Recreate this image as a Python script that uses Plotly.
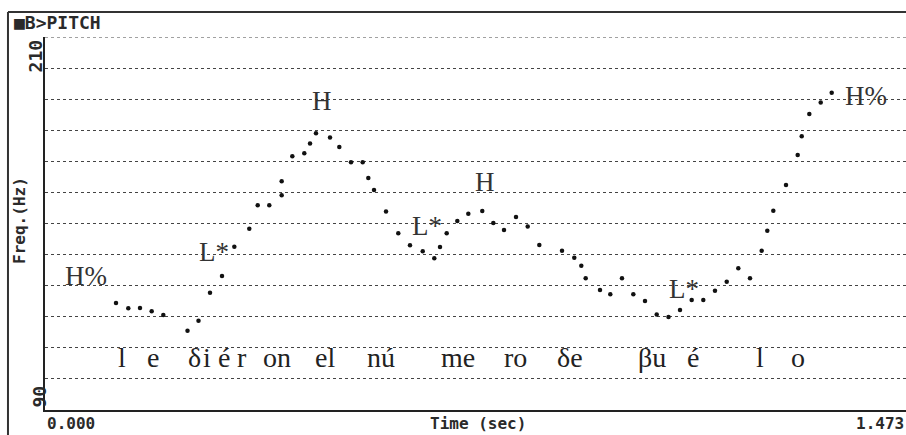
"""
Pitch track (F0) with ToBI-style tone labels and a phonetic transcription
"""
import plotly.graph_objects as go

# F0 points
time_s = [0.1215, 0.1425, 0.1625, 0.1825, 0.2024, 0.2438, 0.2626, 0.2823,
          0.3028, 0.3239, 0.3495, 0.3639, 0.3837, 0.4049, 0.4049, 0.4231,
          0.4436, 0.4534, 0.4636, 0.4876, 0.5035, 0.5235, 0.5435, 0.5531,
          0.5629, 0.5834, 0.6044, 0.6244, 0.6462, 0.6660, 0.6758, 0.6872,
          0.7054, 0.7242, 0.7481, 0.7670, 0.7853, 0.8058, 0.8258, 0.8457,
          0.8845, 0.9055, 0.9175, 0.9250, 0.9495, 0.9671, 0.9871, 1.0065,
          1.0265, 1.0465, 1.0667, 1.0864, 1.1064, 1.1262, 1.1462, 1.1663,
          1.1861, 1.2061, 1.2261, 1.2357, 1.2460, 1.2677, 1.2877, 1.2946,
          1.3076, 1.3271, 1.3459]
freq_hz = [124.4, 122.7, 122.8, 121.8, 120.6, 115.5, 118.7, 127.7,
           133.1, 142.5, 148.3, 155.9, 155.9, 163.6, 159.1, 171.6,
           172.6, 175.7, 179.0, 177.7, 174.6, 169.7, 169.7, 164.6,
           160.8, 153.9, 146.9, 143.0, 141.1, 138.8, 142.4, 146.9,
           150.8, 153.1, 154.0, 150.2, 147.9, 152.1, 149.0, 143.1,
           141.2, 139.0, 136.4, 132.4, 128.6, 127.2, 132.4, 127.2,
           125.1, 120.7, 119.9, 122.2, 125.4, 125.4, 128.4, 131.3,
           135.6, 132.4, 141.2, 147.7, 154.1, 162.4, 172.0, 178.1,
           185.2, 188.9, 192.1]

# tone labels
tone_labels = ["H%", "L*", "H", "L*", "H", "L*", "H%"]
tone_times = [0.0701, 0.2891, 0.4747, 0.6535, 0.7519, 1.0932, 1.4054]
tone_freqs = [133.1, 140.8, 189.4, 149.2, 163.3, 128.9, 191.0]

# phonetic transcription (segment centres)
phone_labels = ["l", "e", "δ", "i", "é", "r", "on", "el", "nú", "me",
                "ro", "δe", "βu", "é", "l", "o"]
phone_times = [0.1317, 0.1848, 0.2566, 0.2771, 0.3062, 0.3370, 0.3969,
               0.4790, 0.5748, 0.7066, 0.8041, 0.8982, 1.0385, 1.1086,
               1.2232, 1.2882]
phone_freq = 107

t_min, t_max = 0.0, 1.473
f_min, f_max = 90, 210

MONO = "DejaVu Sans Mono"
SERIF = "Liberation Serif"
INK = "#2a2a2a"


def add_label(fig, text, x, y, size, xref="paper", yref="paper",
              xanchor="center", yanchor="middle", angle=0):
    """Text outside the plot, with explicit anchors (no 'auto')"""
    fig.add_annotation(x=x, y=y, xref=xref, yref=yref, text=text,
                       xanchor=xanchor, yanchor=yanchor, textangle=angle,
                       showarrow=False,
                       font=dict(family=MONO, size=size, color=INK))


fig = go.Figure()

fig.add_trace(go.Scatter(
    x=time_s, y=freq_hz, mode="markers",
    marker=dict(color="#111111", size=4.5),
    showlegend=False, hoverinfo="skip"
))

# tone labels
for lab, t, f in zip(tone_labels, tone_times, tone_freqs):
    fig.add_annotation(x=t, y=f, text=lab, showarrow=False,
                       font=dict(family=SERIF, size=27, color="#333333"))

# transcription
for lab, t in zip(phone_labels, phone_times):
    fig.add_annotation(x=t, y=phone_freq, text=lab, showarrow=False,
                       font=dict(family=SERIF, size=28, color="#222222"))

# top grid line (plotly skips the one on the range edge)
fig.add_hline(y=f_max, line=dict(color="#444444", width=1, dash="dot"))

# axis end labels
add_label(fig, "<b>210</b>", -0.0105, f_max, 18, yref="y",
          yanchor="top", angle=-90)
add_label(fig, "<b>90</b>", -0.0075, f_min, 18, yref="y",
          yanchor="bottom", angle=-90)
add_label(fig, "<b>Freq.(Hz)</b>", -0.029, 0.507, 16, angle=-90)
add_label(fig, "<b>0.000</b>", t_min, -0.035, 16, xref="x", xanchor="left")
add_label(fig, "<b>1.473</b>", t_max, -0.035, 16, xref="x", xanchor="right")
add_label(fig, "<b>Time (sec)</b>", 0.503, -0.035, 16)

# window title
add_label(fig, "<b>■B>PITCH</b>", -0.0383, 1.04, 18, xanchor="left")

# outer window frame (left and top edges)
fig.add_shape(type="line", xref="paper", yref="paper",
              x0=-0.043, x1=-0.043, y0=-0.07, y1=1.067,
              line=dict(color="#333333", width=2))
fig.add_shape(type="line", xref="paper", yref="paper",
              x0=-0.043, x1=1.01, y0=1.067, y1=1.067,
              line=dict(color="#333333", width=2))

fig.update_xaxes(range=[t_min, t_max], showgrid=False, zeroline=False,
                 showticklabels=False, ticks="", showline=True,
                 linecolor="#222222", linewidth=2)
fig.update_yaxes(range=[f_min, f_max], dtick=10, tick0=90, showgrid=True,
                 gridcolor="#444444", griddash="dot", gridwidth=1,
                 zeroline=False, showticklabels=False, ticks="",
                 showline=True, linecolor="#222222", linewidth=2)

fig.update_layout(
    width=906, height=435,
    margin=dict(l=45, r=0, t=37, b=25),
    paper_bgcolor="white", plot_bgcolor="white",
)

fig.write_html("out.html", config={"displayModeBar": False},
               post_script="document.body.style.margin='0px';")
